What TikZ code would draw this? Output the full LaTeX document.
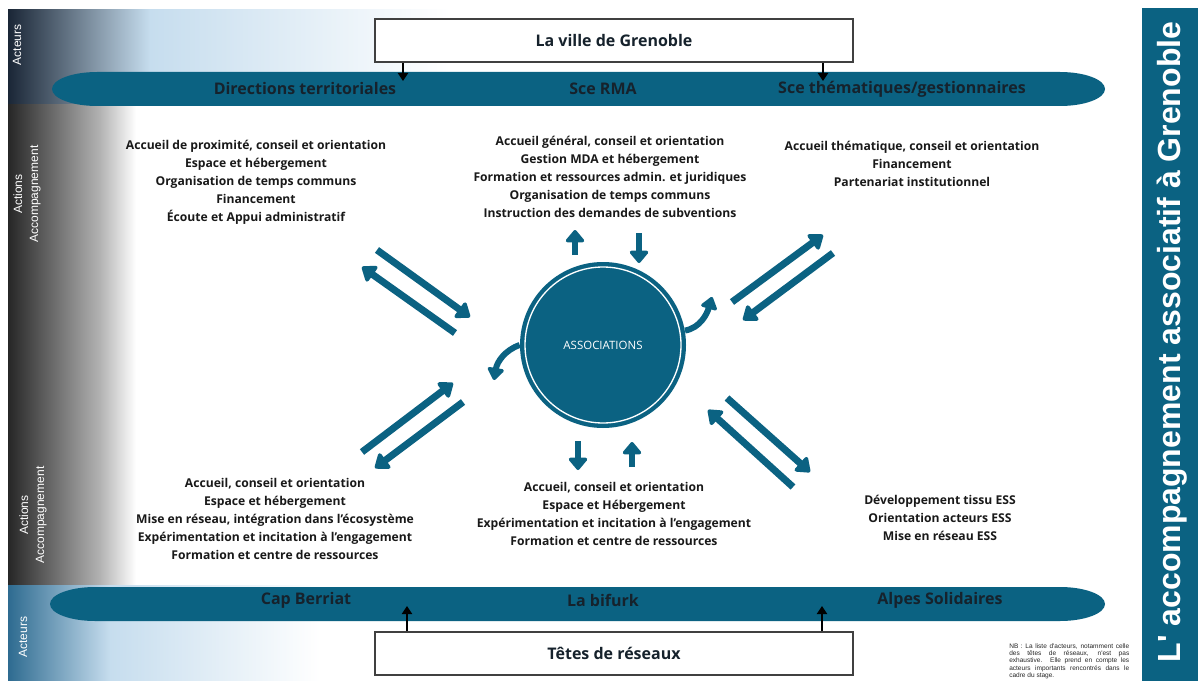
\documentclass[tikz,border=0pt]{standalone}
\usepackage{fontspec}
\setmainfont{Open Sans}
\newfontfamily\arialfont{Liberation Sans}
\usetikzlibrary{arrows.meta, positioning}
\definecolor{petrole}{HTML}{0B6282}
\definecolor{nuit}{HTML}{1A2636}
\definecolor{ciel}{HTML}{C6DDEE}
\definecolor{encre}{HTML}{16222C}
\definecolor{bleugris}{HTML}{2E6B90}

\begin{document}
\begin{tikzpicture}[x=0.75pt, y=-0.75pt,
  band/.style={font=\bfseries\fontsize{12}{14}\selectfont, text=encre},
  actor/.style={draw=black!75, line width=1.5pt, fill=white, minimum width=358.5pt,
    minimum height=32pt, font=\bfseries\fontsize{12}{14}\selectfont, text=encre},
  side/.style={rotate=90, text=white, align=center, font=\arialfont\fontsize{9}{12}\selectfont},
  liste/.style={align=center, text=black!90, font=\bfseries\fontsize{9.1}{13.5}\selectfont},
  lien/.style={black, line width=1.5pt, -{Triangle[width=7.5pt,length=6pt]}},
  fleche/.style={petrole, line width=5.25pt, -{Triangle[width=16pt,length=11pt,round]}},
  bloc/.style={petrole, line width=5pt, -{Triangle[width=16pt,length=10pt,round]}},
  courbe/.style={petrole, line width=4.5pt, -{Triangle[width=14pt,length=10pt,round]}}
]
\useasboundingbox (0,0) rectangle (1198,681);
\fill[white] (0,0) rectangle (1198,681);

\shade[left color=nuit, right color=ciel] (8,10) rectangle (150,105);
\shade[left color=ciel, right color=white] (150,10) rectangle (450,105);
\shade[left color=black!85, right color=black!30] (8,105) rectangle (100,585);
\shade[left color=black!30, right color=white] (100,105) rectangle (136,585);
\shade[left color=bleugris, right color=ciel] (8,585) rectangle (110,681);
\shade[left color=ciel, right color=white] (110,585) rectangle (320,681);

\fill[petrole] (97,72) -- (1060,72) arc[start angle=-90, end angle=90, x radius=45, y radius=17]
  -- (97,106) arc[start angle=90, end angle=270, x radius=45, y radius=17] -- cycle;
\fill[petrole] (95,587) -- (1060,587) arc[start angle=-90, end angle=90, x radius=45, y radius=17]
  -- (95,621) arc[start angle=90, end angle=270, x radius=45, y radius=17] -- cycle;

\fill[petrole] (1142,8) rectangle (1198,681);
\node[rotate=90, text=white, font=\arialfont\bfseries\fontsize{24}{27}\selectfont] (titre) at (1172,342)
  {L' accompagnement associatif à Grenoble};

\node[side] (acteurs1) at (17,45) {Acteurs};
\node[side] (actions1) at (27,194) {Actions\\Accompagnement};
\node[side] (actions2) at (33,515) {Actions\\Accompagnement};
\node[side] (acteurs2) at (23,637) {Acteurs};

\node[actor] (ville) at (614,40.5) {La ville de Grenoble};
\node[actor] (reseaux) at (614,653.5) {Têtes de réseaux};

\node[band] (dirterr) at (305,89) {Directions territoriales};
\node[band] (scerma) at (603,89) {Sce RMA};
\node[band] (scethem) at (902,89) {Sce thématiques/gestionnaires};
\node[band] (capb) at (306,600) {Cap Berriat};
\node[band] (bifurk) at (603,600) {La bifurk};
\node[band] (alpes) at (940,600) {Alpes Solidaires};

\coordinate (d1) at (403,81);
\coordinate (d2) at (823,81);
\coordinate (b1) at (407,606);
\coordinate (b2) at (822,606);
\draw[lien] (ville.south -| d1) -- (d1);
\draw[lien] (ville.south -| d2) -- (d2);
\draw[lien] (reseaux.north -| b1) -- (b1);
\draw[lien] (reseaux.north -| b2) -- (b2);

\node[liste] (hautg) at (256,182) {Accueil de proximité, conseil et orientation\\Espace et hébergement\\
  Organisation de temps communs\\Financement\\Écoute et Appui administratif};
\node[liste] (hautm) at (610,177) {Accueil général, conseil et orientation\\Gestion MDA et hébergement\\
  Formation et ressources admin. et juridiques\\Organisation de temps communs\\
  Instruction des demandes de subventions};
\node[liste] (hautd) at (912,164) {Accueil thématique, conseil et orientation\\Financement\\
  Partenariat institutionnel};
\node[liste] (basg) at (275,519) {Accueil, conseil et orientation\\Espace et hébergement\\
  Mise en réseau, intégration dans l'écosystème\\Expérimentation et incitation à l'engagement\\
  Formation et centre de ressources};
\node[liste] (basm) at (614,514) {Accueil, conseil et orientation\\Espace et Hébergement\\
  Expérimentation et incitation à l'engagement\\Formation et centre de ressources};
\node[liste] (basd) at (940,518) {Développement tissu ESS\\Orientation acteurs ESS\\Mise en réseau ESS};

\node[circle, fill=petrole, minimum size=124.5pt, inner sep=0pt, text=white,
  font=\fontsize{8.6}{10}\selectfont] (assoc) at (603,345) {ASSOCIATIONS};
\draw[white, line width=1pt] (assoc.center) circle[radius=78];

\draw[courbe] (assoc.10) .. controls (700,328) and (707,314) .. (712,297);
\draw[courbe] (assoc.west) .. controls (505,350) and (497,362) .. (494,380);

\draw[bloc] (575,255) -- (575,230);
\draw[bloc] (639,233) -- (639,263);
\draw[bloc] (578,441) -- (578,470);
\draw[bloc] (632,467) -- (632,442);

\draw[fleche] (377,250) -- (470,317);
\draw[fleche] (455,333) -- (362,267);
\draw[fleche] (732,302) -- (823,235);
\draw[fleche] (833,253) -- (743,320);
\draw[fleche] (362,452) -- (453,383);
\draw[fleche] (463,402) -- (375,468);
\draw[fleche] (727,398) -- (810,472);
\draw[fleche] (793,487) -- (708,410);

\node[anchor=north west, inner sep=0pt, text width=90pt, align=justify, text=black!85,
  font=\arialfont\fontsize{4.9}{5.6}\selectfont] (nb) at (1009,643)
  {NB : La liste d'acteurs, notamment celle\linebreak des têtes de réseaux, n'est pas\linebreak
  exhaustive. Elle prend en compte les\linebreak acteurs importants rencontrés dans le\linebreak cadre du stage.};
\end{tikzpicture}
\end{document}
